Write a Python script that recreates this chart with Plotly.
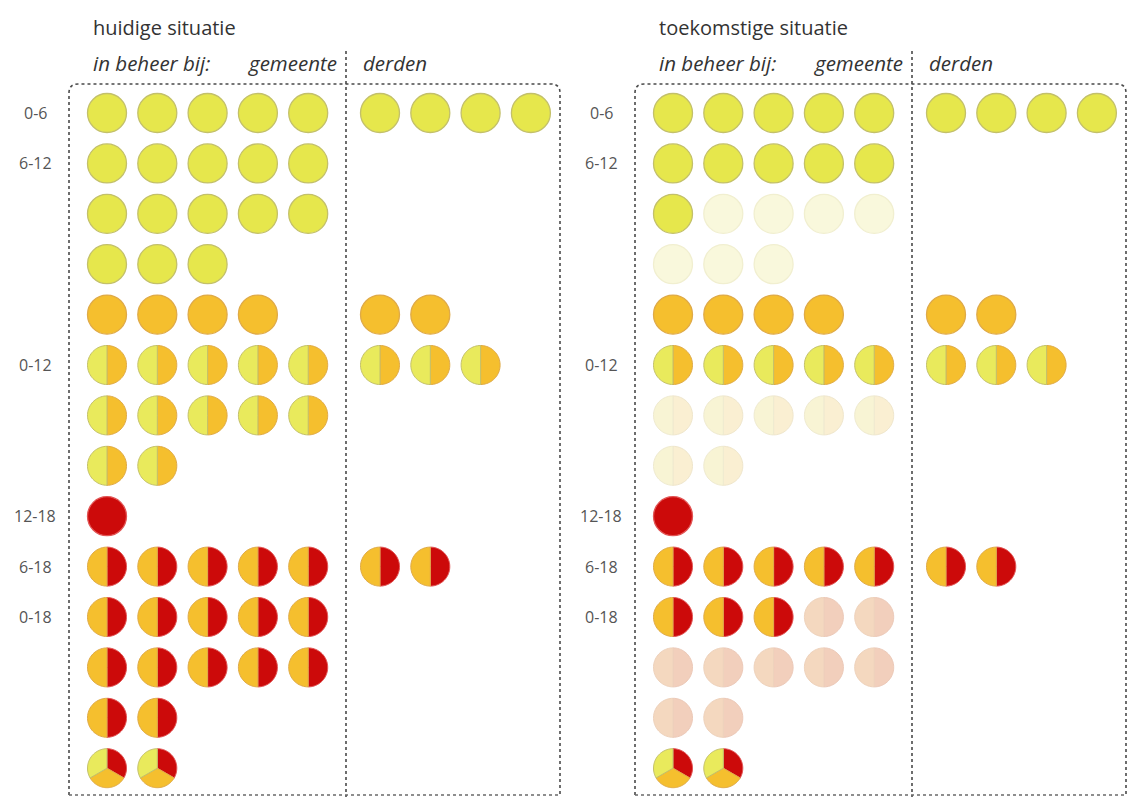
import numpy as np
import plotly.graph_objects as go

# ---------------- data ----------------
panel_titles = ["huidige situatie", "toekomstige situatie"]
header_labels = ["in beheer bij:", "gemeente", "derden"]
row_labels = ["0-6", "6-12", "", "", "", "0-12", "", "", "12-18", "6-18", "0-18", "", "", ""]
row_types = ["Y", "Y", "Y", "Y", "O", "YO", "YO", "YO", "R", "OR", "OR", "OR", "OR", "YOR"]
gemeente_counts = [5, 5, 5, 3, 4, 5, 5, 2, 1, 5, 5, 5, 2, 2]
derden_counts = [4, 0, 0, 0, 2, 3, 0, 0, 0, 2, 0, 0, 0, 0]
# toekomstige situatie: circles of gemeente that stay in full colour (rest is faded)
future_kept_gemeente = [5, 5, 1, 0, 4, 5, 0, 0, 1, 5, 3, 0, 0, 2]

# ---------------- styling ----------------
W, H = 1137, 797
YEL, ORA, RED = "#e6e74c", "#f5bf2e", "#cc0a0a"
YEL_L = "#e9ea5c"
EDGE = {YEL: "#c3c06a", YEL_L: "#c3c06a", ORA: "#dfaa48", RED: "#e25454",
        "#f9f8dc": "#f1efd0", "#f8f4d4": "#efead0", "#faefd2": "#efe6cc",
        "#f4d8bf": "#eed2bc", "#f2cfbc": "#ecc9b8", "#faf1d6": "#f0e8cc", "#f5d9c4": "#eed0bc"}
WEDGES = {
    "Y": [(0, 360, YEL)],
    "O": [(0, 360, ORA)],
    "R": [(0, 360, RED)],
    "YO": [(0, 180, ORA), (180, 360, YEL_L)],
    "OR": [(0, 180, RED), (180, 360, ORA)],
    "YOR": [(0, 120, RED), (120, 240, ORA), (240, 360, YEL_L)],
}
FADED_WEDGES = {
    "Y": [(0, 360, "#f9f8dc")],
    "O": [(0, 360, "#faf1d6")],
    "R": [(0, 360, "#f5d9c4")],
    "YO": [(0, 180, "#faefd2"), (180, 360, "#f8f4d4")],
    "OR": [(0, 180, "#f2cfbc"), (180, 360, "#f4d8bf")],
    "YOR": [(0, 360, "#f5d9c4")],
}
R = 19.5
X_GEM, X_DER, DX = 107, 380, 50.3
Y0, DY = 113, 50.4
PANEL_DX = 566
FRAME_L, FRAME_R, FRAME_T, FRAME_B, DIV_X = 69, 560, 84, 795, 346
FONT = "Open Sans"

shapes = []


def wedge_path(cx, cy, a0, a1):
    th = np.radians(np.linspace(a0, a1, 40))
    xs = cx + R * np.sin(th)
    ys = cy - R * np.cos(th)
    pts = " ".join(f"L{x:.2f},{y:.2f}" for x, y in zip(xs, ys))
    return f"M{cx:.2f},{cy:.2f} {pts} Z"


def add_circle(cx, cy, kind, faded):
    wedges = FADED_WEDGES[kind] if faded else WEDGES[kind]
    for a0, a1, col in wedges:
        if a1 - a0 >= 360:
            shapes.append(dict(type="circle", xref="x", yref="y",
                               x0=cx - R, x1=cx + R, y0=cy - R, y1=cy + R,
                               fillcolor=col, line=dict(color=EDGE[col], width=1.3),
                               layer="above"))
        else:
            shapes.append(dict(type="path", xref="x", yref="y",
                               path=wedge_path(cx, cy, a0, a1),
                               fillcolor=col, line=dict(color=EDGE[col], width=1.0),
                               layer="above"))


def frame_path(l, r, t, b, rad=9):
    return (f"M{l},{b} L{l},{t + rad} Q{l},{t} {l + rad},{t} "
            f"L{r - rad},{t} Q{r},{t} {r},{t + rad} L{r},{b}")


annotations = []
for p, title in enumerate(panel_titles):
    off = p * PANEL_DX
    # frame + divider
    shapes.append(dict(type="path", xref="x", yref="y",
                       path=frame_path(FRAME_L + off, FRAME_R + off, FRAME_T, FRAME_B),
                       line=dict(color="#4a4a4a", width=1.6, dash="dot"), layer="below"))
    shapes.append(dict(type="line", xref="x", yref="y",
                       x0=DIV_X + off, x1=DIV_X + off, y0=51, y1=H,
                       line=dict(color="#4a4a4a", width=1.6, dash="dot"), layer="below"))
    shapes.append(dict(type="line", xref="x", yref="y",
                       x0=FRAME_L + off, x1=FRAME_R + off, y0=FRAME_B, y1=FRAME_B,
                       line=dict(color="#6a6a6a", width=1.4, dash="dot"), layer="below"))
    # texts
    annotations.append(dict(x=91 + off, y=27, text=title, showarrow=False,
                            xanchor="left", yanchor="middle",
                            font=dict(size=20, color="#333333", family=FONT)))
    for txt, xx in zip(header_labels, [91, 246, 361]):
        annotations.append(dict(x=xx + off, y=63, text=f"<i>{txt}</i>", showarrow=False,
                                xanchor="left", yanchor="middle",
                                font=dict(size=20.5, color="#333333", family=FONT)))
    # rows
    for i, (lab, kind, ng, nd) in enumerate(zip(row_labels, row_types,
                                                 gemeente_counts, derden_counts)):
        cy = Y0 + DY * i
        if lab:
            annotations.append(dict(x=35 + off, y=cy, text=lab, showarrow=False,
                                    xanchor="center", yanchor="middle",
                                    font=dict(size=16, color="#555555", family=FONT)))
        kept = ng if p == 0 else future_kept_gemeente[i]
        for c in range(ng):
            add_circle(X_GEM + DX * c + off, cy, kind, c >= kept)
        for c in range(nd):
            add_circle(X_DER + DX * c + off, cy, kind, False)

fig = go.Figure()
fig.add_trace(go.Scatter(x=[0, W], y=[0, H], mode="markers",
                         marker=dict(opacity=0), hoverinfo="skip", showlegend=False))
fig.update_layout(
    width=W, height=H, margin=dict(l=0, r=0, t=0, b=0),
    paper_bgcolor="white", plot_bgcolor="white",
    xaxis=dict(range=[0, W], visible=False, fixedrange=True),
    yaxis=dict(range=[H, 0], visible=False, fixedrange=True),
    shapes=shapes, annotations=annotations, showlegend=False,
)
fig.write_html("out.html", post_script="document.body.style.margin='0';",
               config={"displayModeBar": False})
